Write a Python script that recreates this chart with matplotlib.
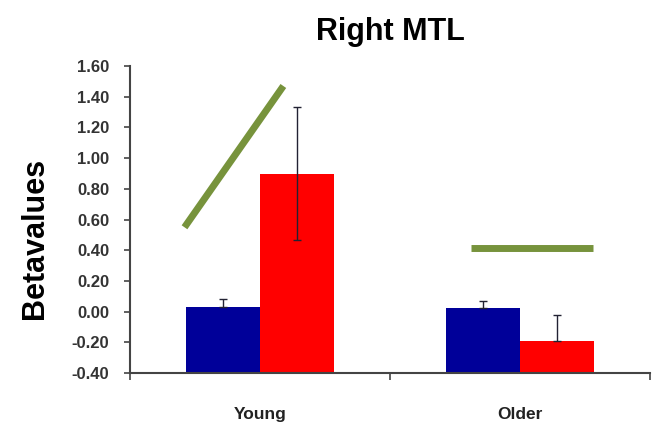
import matplotlib.pyplot as plt
import numpy as np

plt.rcParams['font.family'] = ['Liberation Sans', 'DejaVu Sans']

groups = ['Young', 'Older']
blue_vals = [0.03, 0.025]
red_vals = [0.90, -0.19]
blue_err = [0.05, 0.045]
red_err_up = [0.43, 0.17]
red_err_down = [0.43, 0.0]

# green trend lines drawn over each group
young_line_x = [-0.29, 0.09]
young_line_y = [0.55, 1.47]
older_line_x = [0.81, 1.28]
older_line_y = [0.415, 0.415]

ymin, ymax = -0.4, 1.6

fig = plt.figure(figsize=(6.56, 4.26), dpi=100)
ax = fig.add_axes([0.198, 0.124, 0.793, 0.721])

x = np.arange(len(groups))
w = 0.285
# bars rise from the bottom of the value axis
ax.bar(x - w / 2, np.array(blue_vals) - ymin, w, bottom=ymin, color='#000099', zorder=2)
ax.bar(x + w / 2, np.array(red_vals) - ymin, w, bottom=ymin, color='#ff0000', zorder=2)
ax.errorbar(x - w / 2, blue_vals, yerr=[[0, 0], blue_err], fmt='none',
            ecolor='#222233', elinewidth=1, capsize=3, zorder=3)
ax.errorbar(x + w / 2, red_vals, yerr=[red_err_down, red_err_up], fmt='none',
            ecolor='#222233', elinewidth=1, capsize=3, zorder=3)

ax.plot(young_line_x, young_line_y, color='#77933c', lw=5, solid_capstyle='butt', zorder=4)
ax.plot(older_line_x, older_line_y, color='#77933c', lw=5, solid_capstyle='butt', zorder=4)

ax.set_xlim(-0.5, 1.5)
ax.set_ylim(ymin, ymax)
yt = np.arange(ymin, ymax + 0.01, 0.2)
ax.set_yticks(yt)
ax.set_yticklabels(['%.2f' % v for v in yt], fontsize=12, fontweight='bold', color='#333333')

# category boundaries get the tick marks, names sit between them
ax.set_xticks([-0.5, 0.5, 1.5])
ax.set_xticklabels([])
ax.set_xticks(x, minor=True)
ax.set_xticklabels(groups, minor=True, fontsize=12.5, fontweight='bold', color='#222222')
ax.tick_params(axis='x', which='minor', length=0, pad=24)
ax.tick_params(axis='x', which='major', length=5, width=1.2, color='#444444')
ax.tick_params(axis='y', length=4, width=1.2, color='#444444', pad=11)

for side in ['top', 'right']:
    ax.spines[side].set_visible(False)
for side in ['left', 'bottom']:
    ax.spines[side].set_linewidth(1.5)
    ax.spines[side].set_color('#444444')

ax.set_ylabel('Betavalues', fontsize=22, fontweight='bold')
ax.yaxis.set_label_coords(-0.154, 0.44)
ax.set_title('Right MTL', fontsize=22, fontweight='bold', pad=19)

fig.savefig('out.png', dpi=100)
